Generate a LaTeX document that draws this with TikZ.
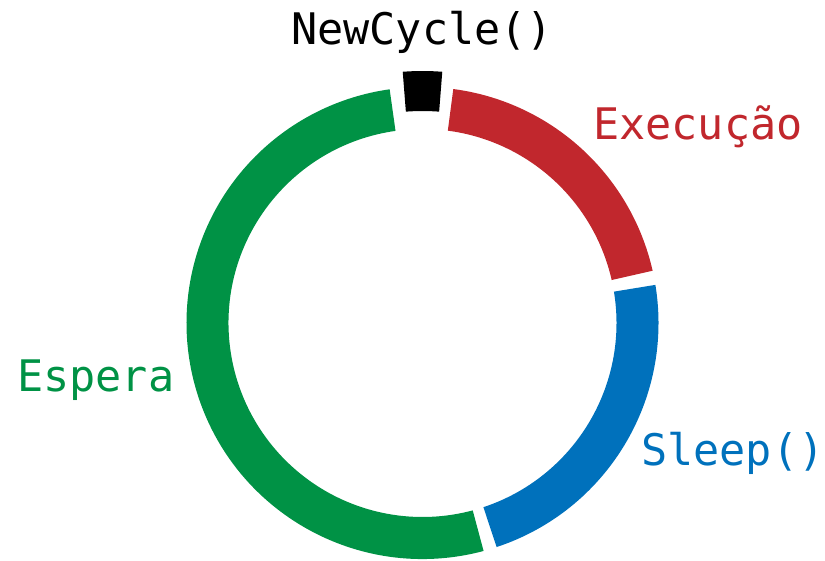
\documentclass[tikz,border=0pt]{standalone}
\usepackage{fontspec}
\setmonofont{DejaVu Sans Mono}
\definecolor{cycred}{HTML}{C1272D}
\definecolor{cycblue}{HTML}{0071BC}
\definecolor{cycgreen}{HTML}{009245}
% annular sector: colour, start angle, end angle, inner radius, outer radius
\newcommand{\ringband}[5]{%
  \fill[#1] (#2:#4) arc[start angle=#2, end angle=#3, radius=#4]
    -- (#3:#5) arc[start angle=#3, end angle=#2, radius=#5] -- cycle;}
\begin{document}
\begin{tikzpicture}[x=1pt,y=1pt,
  lbl/.style={inner sep=0pt, anchor=base west, font=\ttfamily\fontsize{43.5}{43.5}\selectfont}]
\useasboundingbox (0,0) rectangle (825,560);
\begin{scope}[shift={(422.5,237)}]
  \ringband{cycred}{12.8}{82.5}{194}{236}
  \ringband{cycblue}{-71.7}{9.3}{194}{236}
  \ringband{cycgreen}{98}{285}{194}{236}
  \ringband{black}{85.5}{94.5}{212}{252}
\end{scope}
\node[lbl] (newcycle) at (291,515) {NewCycle()};
\node[lbl, text=cycred] (exec) at (593,420) {Execução};
\node[lbl, text=cycblue] (sleep) at (641,95) {Sleep()};
\node[lbl, text=cycgreen] (espera) at (17,168) {Espera};
\end{tikzpicture}
\end{document}
